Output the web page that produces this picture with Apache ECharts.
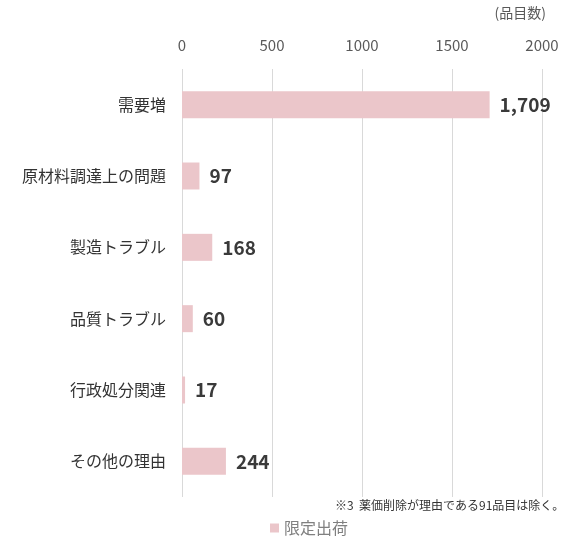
<!DOCTYPE html>
<html><head><meta charset="utf-8">
<script src="https://cdn.jsdelivr.net/npm/echarts@6/dist/echarts.min.js"></script>
<style>html,body{margin:0;padding:0;background:#fff}#c{width:575px;height:536px}</style>
</head><body><div id="c"></div>
<script>
const categories = ['需要増','原材料調達上の問題','製造トラブル','品質トラブル','行政処分関連','その他の理由'];
const values = [1709, 97, 168, 60, 17, 244];
const seriesName = '限定出荷';
const unitLabel = '(品目数)';
const footnote = '※3  薬価削除が理由である91品目は除く。';

const font = '"Noto Sans CJK JP", "Noto Sans", sans-serif';
const chart = echarts.init(document.getElementById('c'));
chart.setOption({
  animation: false,
  textStyle: { fontFamily: font },
  grid: { left: 182, right: 33, top: 69, bottom: 39, containLabel: false },
  legend: {
    data: [seriesName], left: 265, top: 515, itemWidth: 9, itemHeight: 9,
    icon: 'rect', itemGap: 4,
    textStyle: { color: '#808080', fontSize: 16, fontFamily: font }
  },
  graphic: [
    { type: 'text', right: 29, top: 6, style: { text: unitLabel, fill: '#595959', font: '14px ' + font } },
    { type: 'text', left: 335, top: 499, style: { text: footnote, fill: '#333', font: '12px ' + font } }
  ],
  xAxis: {
    type: 'value', position: 'top', min: 0, max: 2000, interval: 500,
    axisLine: { show: false }, axisTick: { show: false },
    axisLabel: { color: '#595959', fontSize: 15, margin: 16, fontFamily: font, formatter: v => String(v) },
    splitLine: { lineStyle: { color: '#d9d9d9', width: 1 } }
  },
  yAxis: {
    type: 'category', data: categories, inverse: true,
    axisLine: { show: false }, axisTick: { show: false },
    axisLabel: { color: '#333', fontSize: 16, margin: 16, fontFamily: font }
  },
  series: [{
    name: seriesName, type: 'bar', data: values, barWidth: 27,
    itemStyle: { color: '#ebc6ca' },
    label: {
      show: true, position: 'right', distance: 10,
      color: '#3a3a3a', fontSize: 19, fontWeight: 'bold', fontFamily: font,
      formatter: p => p.value.toLocaleString('en-US')
    }
  }]
});
</script></body></html>
